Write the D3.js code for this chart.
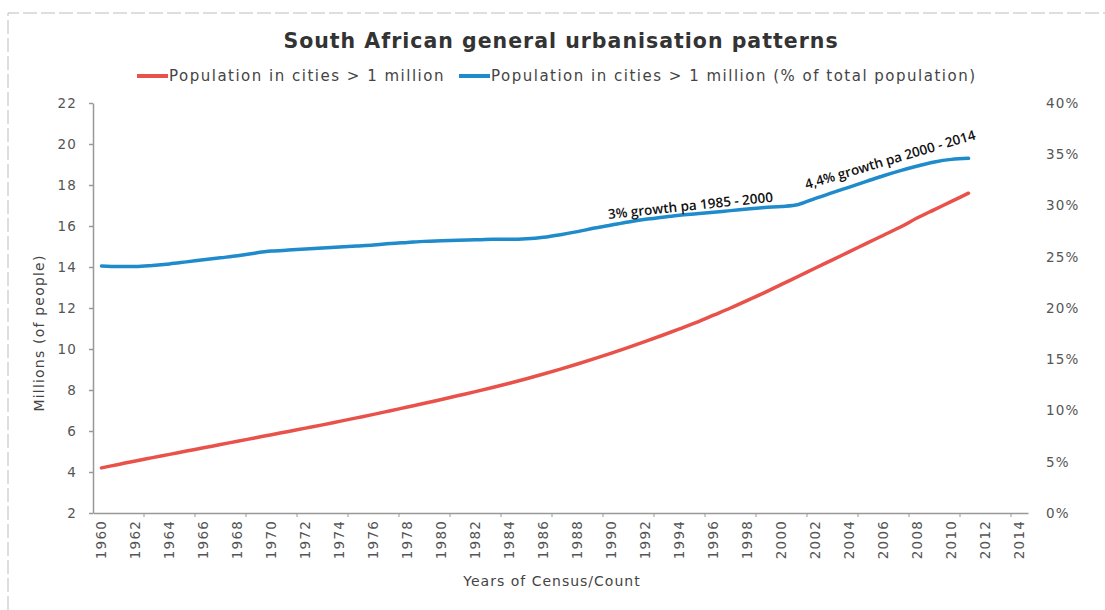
<!DOCTYPE html>
<html>
<head>
<meta charset="utf-8">
<script src="https://cdn.jsdelivr.net/npm/d3@7"></script>
<style>
  body { margin: 0; background: #fff; }
  svg { display: block; }
  .tick text { font-family: "DejaVu Sans", sans-serif; font-size: 13.5px; fill: #555; letter-spacing: 1.2px; }
  .lbl { font-family: "DejaVu Sans", sans-serif; fill: #444; }
  .note { font-family: "Open Sans", sans-serif; font-size: 13.5px; font-weight: 600; fill: #111; }
</style>
</head>
<body>
<div id="chart"></div>
<script>
// data
var years = d3.range(1960, 2015);          // category axis 1960..2014
var dataYears = d3.range(1960, 2012);      // values present 1960..2011

var popMillions = [
  4.2, 4.37, 4.54, 4.7, 4.86, 5.02, 5.18, 5.34, 5.5, 5.66,
  5.82, 5.98, 6.14, 6.3, 6.47, 6.64, 6.81, 6.99, 7.17, 7.35,
  7.54, 7.73, 7.92, 8.12, 8.33, 8.55, 8.78, 9.02, 9.27, 9.53,
  9.8, 10.08, 10.37, 10.67, 10.98, 11.3, 11.65, 12.0, 12.37, 12.75,
  13.15, 13.55, 13.95, 14.35, 14.75, 15.15, 15.55, 15.95, 16.4, 16.8,
  17.2, 17.6
];

var popShare = [
  24.1, 24.05, 24.05, 24.15, 24.3, 24.5, 24.7, 24.9, 25.1, 25.35,
  25.55, 25.65, 25.75, 25.85, 25.95, 26.05, 26.15, 26.3, 26.4, 26.5,
  26.55, 26.6, 26.65, 26.7, 26.7, 26.75, 26.9, 27.15, 27.45, 27.8,
  28.1, 28.4, 28.65, 28.85, 29.05, 29.2, 29.35, 29.5, 29.65, 29.8,
  29.9, 30.1, 30.7, 31.25, 31.8, 32.35, 32.9, 33.4, 33.85, 34.25,
  34.5, 34.6
];

var leftTicks = d3.range(2, 23, 2);
var rightTicks = d3.range(0, 41, 5);
var xLabels = years.filter(function (d) { return d % 2 === 0; });

var seriesNames = [
  "Population in cities > 1 million",
  "Population in cities > 1 million (% of total population)"
];
var seriesColors = ["#e8524a", "#1f8bcb"];

var notes = [
  { text: "3% growth pa 1985 - 2000", year: 1990, value: 28.1, angle: -6, dx: -3, dy: -6 },
  { text: "4,4% growth pa 2000 - 2014", year: 2002, value: 30.7, angle: -16.5, dx: -9, dy: -9 }
];

var width = 1105, height = 610;
var margin = { top: 103, right: 77, bottom: 97, left: 93 };

var svg = d3.select("#chart")
  .append("svg")
  .attr("width", width)
  .attr("height", height);

// faint frame from the original screenshot
svg.append("path")
  .attr("d", "M8,610V13H1105")
  .attr("fill", "none")
  .attr("stroke", "#bdbdbd")
  .attr("stroke-dasharray", "14,4");

var x = d3.scaleBand()
  .domain(years)
  .range([margin.left, width - margin.right])
  .paddingInner(0);

var yLeft = d3.scaleLinear()
  .domain([2, 22])
  .range([height - margin.bottom, margin.top]);

var yRight = d3.scaleLinear()
  .domain([0, 40])
  .range([height - margin.bottom, margin.top]);

function cx(yr) { return x(yr) + x.bandwidth() / 2; }

// title
svg.append("text")
  .attr("class", "lbl")
  .attr("x", 561)
  .attr("y", 48)
  .attr("text-anchor", "middle")
  .style("font-size", "20.5px")
  .style("font-weight", "bold")
  .style("letter-spacing", "1px")
  .style("fill", "#333")
  .text("South African general urbanisation patterns");

// legend
var legendX = [137, 459];
seriesNames.forEach(function (name, i) {
  svg.append("line")
    .attr("x1", legendX[i]).attr("x2", legendX[i] + 31)
    .attr("y1", 76).attr("y2", 76)
    .attr("stroke", seriesColors[i])
    .attr("stroke-width", 4);
  svg.append("text")
    .attr("class", "lbl")
    .attr("x", legendX[i] + 32)
    .attr("y", 81)
    .style("font-size", "15px")
    .style("letter-spacing", "1.5px")
    .text(name);
});

// left axis
svg.append("g")
  .attr("transform", "translate(" + margin.left + ",0)")
  .call(d3.axisLeft(yLeft).tickValues(leftTicks).tickSize(4).tickSizeOuter(0).tickPadding(12));

// right axis (labels only)
var gRight = svg.append("g")
  .attr("transform", "translate(" + (width - margin.right + 18) + ",0)")
  .call(d3.axisRight(yRight).tickValues(rightTicks).tickSize(0).tickPadding(0)
    .tickFormat(function (d) { return d + "%"; }));
gRight.select(".domain").remove();

// bottom axis
var gBottom = svg.append("g")
  .attr("transform", "translate(0," + (height - margin.bottom) + ")")
  .call(d3.axisBottom(x).tickValues(xLabels).tickSize(0).tickSizeOuter(0));
gBottom.selectAll(".tick text")
  .attr("transform", "rotate(-90)")
  .attr("text-anchor", "end")
  .attr("x", -7)
  .attr("y", 0)
  .attr("dy", "0.36em");

// small tick marks along the category axis
gBottom.selectAll(".minor")
  .data(years.filter(function (d, i) { return i % 3 === 0 && i > 0; }))
  .enter()
  .append("line")
  .attr("x1", function (d) { return x(d); })
  .attr("x2", function (d) { return x(d); })
  .attr("y1", 0).attr("y2", 4)
  .attr("stroke", "#999");

svg.selectAll(".domain, .tick line").attr("stroke", "#999").attr("stroke-width", 1.5);

// axis titles
svg.append("text")
  .attr("class", "lbl")
  .attr("transform", "translate(44,333) rotate(-90)")
  .attr("text-anchor", "middle")
  .style("font-size", "14px")
  .style("letter-spacing", "1.2px")
  .text("Millions (of people)");

svg.append("text")
  .attr("class", "lbl")
  .attr("x", 552)
  .attr("y", 586)
  .attr("text-anchor", "middle")
  .style("font-size", "14px")
  .style("letter-spacing", "1px")
  .text("Years of Census/Count");

// lines
var lineLeft = d3.line()
  .x(function (d, i) { return cx(dataYears[i]); })
  .y(function (d) { return yLeft(d); })
  .curve(d3.curveMonotoneX);

var lineRight = d3.line()
  .x(function (d, i) { return cx(dataYears[i]); })
  .y(function (d) { return yRight(d); })
  .curve(d3.curveMonotoneX);

svg.append("path")
  .datum(popMillions)
  .attr("d", lineLeft)
  .attr("fill", "none")
  .attr("stroke", seriesColors[0])
  .attr("stroke-width", 3.5)
  .attr("stroke-linecap", "round");

svg.append("path")
  .datum(popShare)
  .attr("d", lineRight)
  .attr("fill", "none")
  .attr("stroke", seriesColors[1])
  .attr("stroke-width", 3.5)
  .attr("stroke-linecap", "round");

// growth notes above the blue line
notes.forEach(function (n) {
  var px = cx(n.year) + n.dx, py = yRight(n.value) + n.dy;
  svg.append("text")
    .attr("class", "note")
    .attr("transform", "translate(" + px + "," + py + ") rotate(" + n.angle + ")")
    .text(n.text);
});
</script>
</body>
</html>
